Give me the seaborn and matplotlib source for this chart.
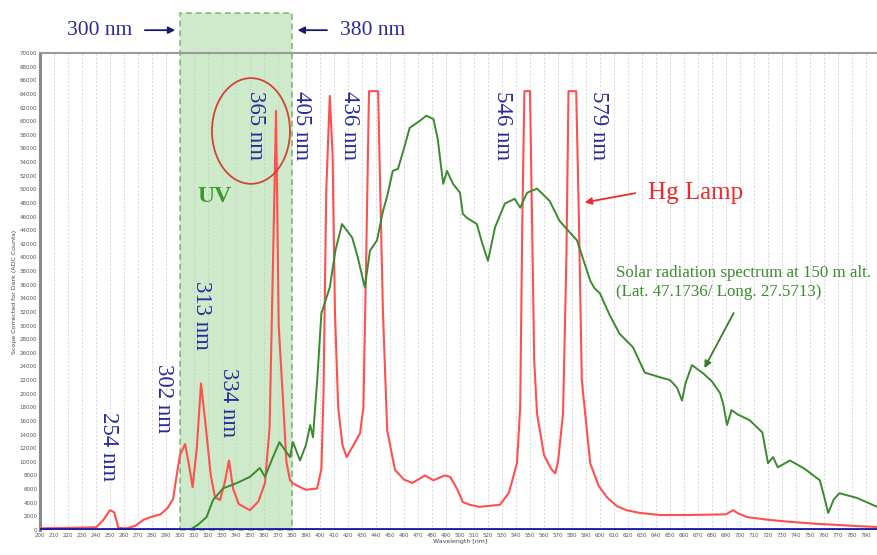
import numpy as np
import pandas as pd
import matplotlib
matplotlib.use("Agg")
import matplotlib.pyplot as plt
from matplotlib.patches import Rectangle, Ellipse
import seaborn as sns

# ---- data ----
hg_wl = [200, 220, 240, 245, 250, 253, 256, 262, 268, 274, 279, 286, 291, 295, 298,
         300, 303.6, 306, 309, 312, 315, 318, 322, 325, 328.6, 332, 335, 338, 342, 350,
         356, 360.7, 364, 366.5, 368.6, 370.5, 373.6, 376, 378.6, 381, 385.7, 390, 398, 401,
         402.5, 404.5, 407, 409, 410.7, 413, 416, 419, 424, 428.6, 431, 433, 435, 437, 440,
         441.5, 443, 445, 448, 453.6, 460, 466, 475, 481, 489, 493, 498, 502, 507, 514,
         528.6, 535, 540.7, 543, 544.5, 546, 548, 550, 551.5, 553, 555, 560, 565, 568,
         570, 573.6, 576, 577.5, 579, 581, 583, 585, 587, 593, 599, 605, 612, 619, 628.6, 643,
         664, 690, 695, 699, 705, 720, 735.7, 755, 771, 785, 798]
hg_val = [250, 300, 400, 1400, 2900, 2600, 300, 250, 600, 1500, 1900, 2300, 3200, 4500, 8500,
          11000, 12600, 10000, 6300, 12000, 21500, 16000, 8000, 4800, 4400, 7000, 10200, 6000, 3800, 2900,
          4200, 6900, 15000, 40000, 61500, 30000, 19000, 10000, 7300, 6800, 6300, 5900, 6100, 9000,
          20000, 50000, 63700, 55000, 31800, 18000, 12500, 10700, 12500, 14200, 18000, 40000, 64400, 64400, 64400,
          64400, 50000, 31800, 14600, 8800, 7400, 6900, 8000, 7300, 8000, 7800, 6000, 4100, 3700, 3400,
          3700, 5500, 9800, 18000, 45000, 64400, 64400, 64400, 45000, 25000, 17100, 11000, 9000, 8300,
          10000, 17100, 40000, 64400, 64400, 64400, 64400, 45000, 22000, 9800, 6500, 4800, 3500, 2900, 2500, 2200,
          2200, 2300, 2900, 2400, 1900, 1500, 1200, 900, 730, 560, 440]

sun_wl = [200, 300, 307, 313, 319, 323.6, 330.7, 340.7, 350, 357, 360.7, 366, 371, 375,
          378.6, 380.7, 385.7, 390, 393, 395, 398, 401, 407, 411, 415.7, 419, 423, 427, 432,
          435.7, 440.7, 445, 448, 452, 455.7, 460, 464, 471, 476, 481, 484, 488, 490.7, 495,
          500, 502, 505, 512, 516, 520, 525, 532, 539, 543, 548, 555, 564, 571, 577, 583.6,
          593, 596, 600, 607, 614, 623.6, 632, 643, 650, 655, 658.6, 661, 665.7, 673.6, 680,
          685.7, 688, 690.7, 694, 698, 707, 716, 720, 723.6, 727, 735.7, 746, 757, 760, 763,
          767, 771, 783.6, 798]
sun_val = [0, 0, 0, 800, 1900, 4400, 6100, 6900, 7800, 9100, 7800, 10500, 12900, 11700,
           10700, 12900, 10200, 12500, 15400, 13600, 22000, 31800, 35600, 41000, 44900, 44000, 42900, 40000, 35600,
           41000, 42500, 46800, 49000, 52700, 53000, 56000, 59000, 60000, 60800, 60300, 57500, 50800, 52700, 50800,
           49500, 46400, 45800, 44900, 42000, 39500, 44400, 47900, 48600, 47300, 49500, 50100, 48300, 45400, 44000, 42500,
           36600, 35500, 34700, 31500, 28800, 26800, 23100, 22400, 22000, 20900, 19000, 21500, 24200, 23000, 21800,
           20100, 18500, 15400, 17600, 17000, 16100, 14300, 9800, 10700, 9200, 10200, 9000, 7300, 5000, 2500,
           4500, 5400, 4700, 3400]

dark_wl = [200, 800]
dark_val = [120, 120]

peak_labels = ["254 nm", "302 nm", "313 nm", "334 nm", "365 nm", "405 nm", "436 nm", "546 nm", "579 nm"]

# ---- figure ----
sns.set_style("white")
plt.rcParams["font.family"] = ["DejaVu Sans"]
serif = ["Liberation Serif", "DejaVu Serif"]

fig = plt.figure(figsize=(8.77, 5.55), dpi=100)
ax = fig.add_axes([40 / 877, 25 / 555, 840 / 877, 477 / 555])

hg = pd.DataFrame({"wl": hg_wl, "counts": hg_val})
sun = pd.DataFrame({"wl": sun_wl, "counts": sun_val})
dark = pd.DataFrame({"wl": dark_wl, "counts": dark_val})

sns.lineplot(data=hg, x="wl", y="counts", ax=ax, color="#ff5050", lw=1.5, zorder=4)
sns.lineplot(data=sun, x="wl", y="counts", ax=ax, color="#3a8a2e", lw=1.4, zorder=5)
sns.lineplot(data=dark, x="wl", y="counts", ax=ax, color="#1a1aa0", lw=2.0, zorder=6)

ax.set_xlim(200, 800)
ax.set_ylim(0, 70000)
ax.set_xticks(np.arange(200, 791, 10))
ax.set_yticks(np.arange(0, 70001, 2000))
ax.tick_params(axis="both", labelsize=4, colors="#555555", length=0, pad=2)
ax.set_xlabel("Wavelength [nm]", fontsize=4.5, color="#444444", labelpad=1)
ax.set_ylabel("Scope Corrected for Dark (ADC Counts)", fontsize=4.5, color="#444444", labelpad=2)
ax.set_yticks(np.arange(0, 70001, 4000), minor=True)
ax.grid(False)
ax.grid(True, which="minor", axis="y", ls=(0, (2, 2)), color="#d8d8d8", lw=0.7)
ax.grid(True, which="major", axis="x", ls=(0, (2, 2)), color="#d8d8d8", lw=0.7)
for s in ["right", "bottom"]:
    ax.spines[s].set_visible(False)
ax.spines["left"].set_color("#8a8a8a")
ax.spines["left"].set_linewidth(2.2)
ax.spines["top"].set_color("#9a9a9a")
ax.spines["top"].set_linewidth(1.5)

# UV band
ax.add_patch(Rectangle((300, 0), 80, 75800, facecolor="#a9d9a0", alpha=0.55,
                       edgecolor="#4e9a3e", ls=(0, (3, 2)), lw=1.4, clip_on=False, zorder=2))
ax.text(324.3, 48900, "UV", fontsize=17, fontweight="bold", color="#3c9a2c",
        family=serif, ha="center", va="center", zorder=7)

blue = "#2a2a9a"
ax.text(242.9, 73350, "300 nm", fontsize=15.5, color=blue, family=serif,
        ha="center", va="center", clip_on=False)
ax.text(437.9, 73350, "380 nm", fontsize=15.5, color=blue, family=serif,
        ha="center", va="center", clip_on=False)
ax.annotate("", xy=(298.6, 73350), xytext=(272.9, 73350), annotation_clip=False,
            arrowprops=dict(arrowstyle="-|>", color="#1a1a70", lw=1.3, mutation_scale=10))
ax.annotate("", xy=(382.0, 73350), xytext=(407.0, 73350), annotation_clip=False,
            arrowprops=dict(arrowstyle="-|>", color="#1a1a70", lw=1.3, mutation_scale=10))

# rotated peak labels
label_pos = [(248.6, 12300), (287.9, 19300), (315.7, 31500), (334.3, 18700), (353.6, 59400),
             (387.0, 59400), (421.4, 59400), (530.7, 59300), (598.6, 59300)]
for txt, (x, y) in zip(peak_labels, label_pos):
    ax.text(x, y, txt, rotation=270, fontsize=16.5, color=blue, family=serif,
            ha="center", va="center", zorder=8)

ax.add_patch(Ellipse((350.7, 58560), 55.7, 15520, fill=False, edgecolor="#d04535", lw=1.3, zorder=8))

# Hg lamp annotation
ax.text(634.3, 49500, "Hg Lamp", fontsize=18, color="#ee2a2a", family=serif,
        ha="left", va="center", zorder=8)
ax.annotate("", xy=(587.1, 48000), xytext=(627.1, 49500),
            arrowprops=dict(arrowstyle="-|>", color="#ee2a2a", lw=1.3, mutation_scale=10))

# solar annotation
ax.text(611.4, 36300, "Solar radiation spectrum at 150 m alt.\n(Lat. 47.1736/ Long. 27.5713)",
        fontsize=12.2, color="#3a8a2e", family=serif, ha="left", va="center",
        linespacing=1.2, zorder=8)
ax.annotate("", xy=(673.6, 23400), xytext=(696.4, 32200),
            arrowprops=dict(arrowstyle="-|>", color="#3a7a2a", lw=1.3, mutation_scale=10))

fig.savefig("out.png", dpi=100)
